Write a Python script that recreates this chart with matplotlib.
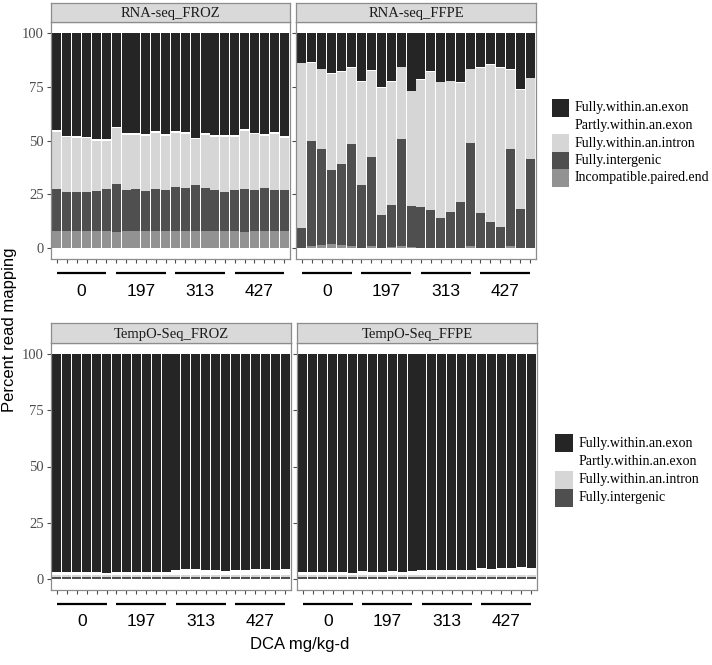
import matplotlib
matplotlib.use("Agg")
import matplotlib.pyplot as plt
from matplotlib.patches import Rectangle
import numpy as np

W, H = 712, 665
DPI = 100

# ---------------- data ----------------
categories_rna = ["Fully.within.an.exon", "Partly.within.an.exon", "Fully.within.an.intron",
                  "Fully.intergenic", "Incompatible.paired.end"]
categories_tempo = ["Fully.within.an.exon", "Partly.within.an.exon", "Fully.within.an.intron",
                    "Fully.intergenic"]
dose_groups = ["0", "197", "313", "427"]
samples_per_group = 6

# RNA-seq FROZ (percent)
rna_froz_exon = [45.2, 47.7, 47.9, 48.2, 49.2, 49.2, 43.6, 46.7, 46.7, 47.2, 45.6, 47.0,
                 45.6, 46.2, 48.7, 46.7, 47.4, 47.4, 47.4, 44.8, 46.3, 47.0, 46.2, 47.9]
rna_froz_partly = [0.8] * 24
rna_froz_intron = [26.6, 25.5, 25.3, 25.0, 23.3, 22.6, 25.6, 25.5, 24.8, 25.3, 26.1, 25.3,
                   25.3, 25.0, 21.3, 24.4, 24.6, 25.5, 24.6, 26.9, 25.7, 24.4, 26.1, 24.4]
rna_froz_intergenic = [19.4, 18.0, 18.0, 18.0, 18.5, 19.3, 22.7, 19.0, 19.7, 18.7, 19.6, 18.9,
                       20.4, 20.0, 21.0, 20.1, 19.2, 18.3, 19.3, 19.8, 19.3, 19.8, 19.0, 19.0]
rna_froz_incompat = [8.0, 8.0, 8.0, 8.0, 8.2, 8.1, 7.3, 8.0, 8.0, 8.0, 7.9, 8.0,
                     7.9, 8.0, 8.2, 8.0, 8.0, 8.0, 7.9, 7.7, 7.9, 8.0, 7.9, 7.9]

# RNA-seq FFPE (percent)
rna_ffpe_exon = [13.9, 13.6, 16.7, 18.9, 17.9, 16.1, 22.6, 17.3, 25.3, 22.6, 15.8, 26.9,
                 21.6, 17.9, 22.7, 22.3, 22.9, 16.7, 16.1, 14.5, 16.1, 17.0, 26.3, 20.9]
rna_ffpe_partly = [0.3] * 24
rna_ffpe_intron = [76.4, 36.2, 37.1, 44.5, 42.8, 35.2, 47.9, 39.9, 59.1, 57.2, 33.2, 53.0,
                   58.9, 64.0, 62.9, 60.7, 55.2, 34.0, 67.4, 73.1, 73.7, 36.5, 55.2, 37.2]
rna_ffpe_intergenic = [9.2, 48.9, 44.4, 34.5, 37.5, 47.4, 29.1, 41.5, 15.0, 19.4, 49.7, 19.3,
                       19.1, 17.5, 14.0, 16.5, 21.5, 48.0, 16.1, 12.0, 9.8, 45.0, 18.1, 41.5]
rna_ffpe_incompat = [0.2, 1.0, 1.5, 1.8, 1.5, 1.0, 0.1, 1.0, 0.3, 0.5, 1.0, 0.5,
                     0.1, 0.3, 0.1, 0.2, 0.1, 1.0, 0.1, 0.1, 0.1, 1.2, 0.1, 0.1]

# TempO-Seq FROZ (percent)
tempo_froz_exon = [96.9, 96.9, 96.9, 96.9, 97.0, 97.5, 97.0, 97.0, 97.0, 97.0, 97.0, 97.0,
                   95.9, 95.6, 95.6, 95.9, 96.2, 96.4, 95.9, 95.9, 95.6, 95.6, 95.9, 95.6]
tempo_froz_partly = [1.3, 1.3, 1.3, 1.3, 1.2, 0.7, 1.2, 1.2, 1.2, 1.2, 1.2, 1.2,
                     2.3, 2.6, 2.6, 2.3, 2.0, 1.8, 2.3, 2.3, 2.6, 2.6, 2.3, 2.6]
tempo_froz_intron = [0.8] * 24
tempo_froz_intergenic = [1.0] * 24

# TempO-Seq FFPE (percent)
tempo_ffpe_exon = [97.0, 96.9, 97.0, 97.0, 97.0, 97.5, 96.4, 97.0, 96.9, 96.7, 97.0, 96.4,
                   95.9, 96.2, 95.9, 95.9, 96.2, 96.3, 95.3, 95.6, 95.3, 95.3, 94.7, 95.3]
tempo_ffpe_partly = [1.2, 1.3, 1.2, 1.2, 1.2, 0.7, 1.8, 1.2, 1.3, 1.5, 1.2, 1.8,
                     2.3, 2.0, 2.3, 2.3, 2.0, 1.9, 2.9, 2.6, 2.9, 2.9, 3.5, 2.9]
tempo_ffpe_intron = [0.8] * 24
tempo_ffpe_intergenic = [1.0] * 24

colors = {
    "Fully.within.an.exon": "#252525",
    "Partly.within.an.exon": "#ffffff",
    "Fully.within.an.intron": "#d6d6d6",
    "Fully.intergenic": "#4f4f4f",
    "Incompatible.paired.end": "#929292",
}

panels = [
    ("RNA-seq_FROZ", {"Fully.within.an.exon": rna_froz_exon, "Partly.within.an.exon": rna_froz_partly,
                      "Fully.within.an.intron": rna_froz_intron, "Fully.intergenic": rna_froz_intergenic,
                      "Incompatible.paired.end": rna_froz_incompat}, categories_rna),
    ("RNA-seq_FFPE", {"Fully.within.an.exon": rna_ffpe_exon, "Partly.within.an.exon": rna_ffpe_partly,
                      "Fully.within.an.intron": rna_ffpe_intron, "Fully.intergenic": rna_ffpe_intergenic,
                      "Incompatible.paired.end": rna_ffpe_incompat}, categories_rna),
    ("TempO-Seq_FROZ", {"Fully.within.an.exon": tempo_froz_exon, "Partly.within.an.exon": tempo_froz_partly,
                        "Fully.within.an.intron": tempo_froz_intron, "Fully.intergenic": tempo_froz_intergenic},
     categories_tempo),
    ("TempO-Seq_FFPE", {"Fully.within.an.exon": tempo_ffpe_exon, "Partly.within.an.exon": tempo_ffpe_partly,
                        "Fully.within.an.intron": tempo_ffpe_intron, "Fully.intergenic": tempo_ffpe_intergenic},
     categories_tempo),
]

# ---------------- layout (pixels) ----------------
SERIF = ["Liberation Serif", "DejaVu Serif"]
SANS = ["Liberation Sans", "DejaVu Sans"]

fig = plt.figure(figsize=(W / DPI, H / DPI), dpi=DPI)
fig.patch.set_facecolor("white")

def fr(x0, y0, x1, y1):
    return [x0 / W, 1 - y1 / H, (x1 - x0) / W, (y1 - y0) / H]

panel_boxes = [
    (51, 22, 290, 259, 3),
    (296, 22, 536, 259, 3),
    (51, 343, 291, 590, 323),
    (297, 343, 537, 590, 323),
]

edge_grey = "#8c8c8c"
for (title, data, cats), (x0, y0, x1, y1, sy) in zip(panels, panel_boxes):
    ax = fig.add_axes(fr(x0, y0, x1, y1))
    n = len(data[cats[0]])
    x = np.arange(1, n + 1)
    bottom = np.zeros(n)
    for cat in reversed(cats):
        vals = np.array(data[cat])
        ax.bar(x, vals, bottom=bottom, width=0.9, color=colors[cat], linewidth=0)
        bottom += vals
    ax.set_xlim(0.4, n + 0.6)
    ax.set_ylim(-5, 105)
    ax.set_xticks(x)
    ax.set_xticklabels([])
    ax.set_yticks([0, 25, 50, 75, 100])
    if x0 < 100:
        ax.set_yticklabels(["0", "25", "50", "75", "100"], family=SERIF, fontsize=10.5, color="#4d4d4d")
    else:
        ax.set_yticklabels([])
    ax.tick_params(axis="both", length=3, width=0.8, color="#4d4d4d", pad=2)
    for s in ax.spines.values():
        s.set_color(edge_grey)
        s.set_linewidth(0.9)
    # strip
    sax = fig.add_axes(fr(x0, sy, x1, y0))
    sax.set_facecolor("#d9d9d9")
    sax.set_xticks([])
    sax.set_yticks([])
    for s in sax.spines.values():
        s.set_color(edge_grey)
        s.set_linewidth(0.9)
    sax.text(0.5, 0.45, title, ha="center", va="center", family=SERIF, fontsize=10.5,
             color="#1a1a1a", transform=sax.transAxes)
    # dose group lines and labels
    trans = matplotlib.transforms.blended_transform_factory(ax.transData, fig.transFigure)
    line_y = 1 - (y1 + 14) / H
    lab_y = 1 - (y1 + 32) / H
    for gi, g in enumerate(dose_groups):
        a = gi * samples_per_group + 1
        b = a + samples_per_group - 1
        ax.plot([a, b], [line_y, line_y], transform=trans, color="black", lw=1.6,
                clip_on=False, solid_capstyle="butt")
        ax.text((a + b) / 2, lab_y, g, transform=trans, ha="center", va="center",
                family=SANS, fontsize=12.5, color="black")

# ---------------- legends ----------------
def draw_legend(cats, key_x0, key_x1, row_ys, key_h, text_x):
    for cat, yc in zip(cats, row_ys):
        r = Rectangle((key_x0 / W, 1 - (yc + key_h / 2) / H), (key_x1 - key_x0) / W, key_h / H,
                      transform=fig.transFigure, facecolor=colors[cat], edgecolor="none")
        fig.patches.append(r)
        fig.text(text_x / W, 1 - yc / H, cat, ha="left", va="center", family=SERIF,
                 fontsize=10, color="black")

draw_legend(categories_rna, 552, 569, [108, 125.5, 143, 160.5, 178], 17.5, 575)
draw_legend(categories_tempo, 555, 573, [443, 461.5, 480, 498], 18.5, 579)

# ---------------- axis titles ----------------
fig.text(10 / W, 1 - 330 / H, "Percent read mapping", rotation=90, ha="center", va="center",
         family=SANS, fontsize=12, color="black")
fig.text(300 / W, 1 - 645 / H, "DCA mg/kg-d", ha="center", va="center",
         family=SANS, fontsize=12, color="black")

fig.savefig("out.png", dpi=DPI, facecolor="white")
